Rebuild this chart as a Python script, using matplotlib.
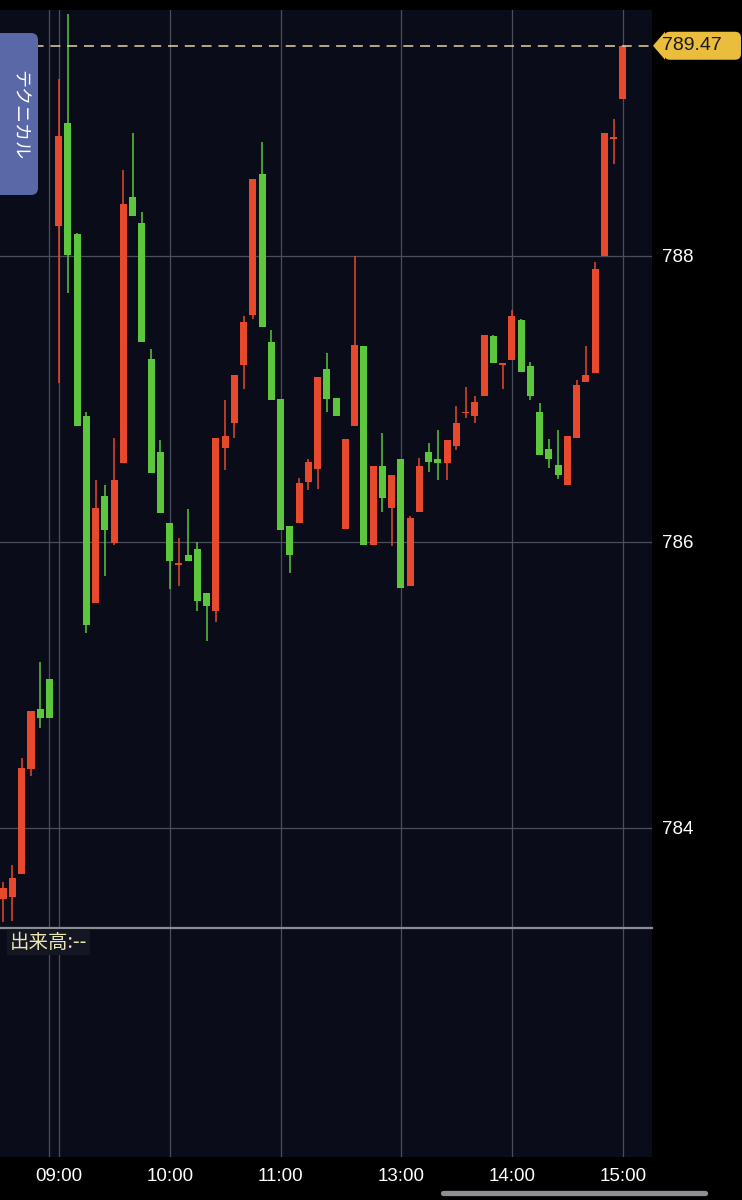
import numpy as np
import matplotlib.pyplot as plt
from matplotlib.patches import FancyBboxPatch, Polygon
from matplotlib.lines import Line2D
from matplotlib.transforms import IdentityTransform

plt.rcParams['font.family'] = ['Liberation Sans', 'Noto Sans CJK JP', 'DejaVu Sans']

# 5-minute candles, previous day tail (0-5) then the session from 09:00 (6)
opens = [783.50, 783.52, 783.68, 784.41, 784.83, 785.04,
         788.21, 788.93, 788.15, 786.88, 785.57, 786.32, 785.99, 786.55, 788.41, 788.23,
         787.28, 786.63, 786.13, 785.84, 785.91, 785.95, 785.64, 785.52, 786.66, 786.83,
         787.24, 787.59, 788.57, 787.40, 787.00, 786.11, 786.13, 786.42, 786.51, 787.21,
         787.01, 786.09, 786.81, 787.37, 785.98, 786.53, 786.24, 786.58, 785.69, 786.21,
         786.63, 786.58, 786.55, 786.67, 786.90, 786.88, 787.02, 787.44, 787.24, 787.27,
         787.55, 787.23, 786.91, 786.65, 786.54, 786.40, 786.73, 787.12, 787.18, 788.00,
         788.82, 789.10]
highs = [783.62, 783.74, 784.49, 784.82, 785.16, 785.04,
         789.24, 789.69, 788.16, 786.91, 786.43, 786.40, 786.73, 788.60, 788.86, 788.31,
         787.35, 786.71, 786.13, 786.03, 786.23, 786.00, 785.64, 786.73, 786.99, 787.17,
         787.58, 788.54, 788.80, 787.48, 787.00, 786.11, 786.45, 786.58, 787.15, 787.32,
         787.01, 786.72, 788.00, 787.37, 786.53, 786.76, 786.47, 786.58, 786.18, 786.59,
         786.69, 786.78, 786.71, 786.95, 787.08, 787.02, 787.45, 787.45, 787.25, 787.62,
         787.56, 787.26, 786.97, 786.72, 786.78, 786.74, 787.13, 787.37, 787.96, 788.86,
         788.96, 789.47]
lows = [783.34, 783.35, 783.68, 784.36, 784.70, 784.77,
        787.11, 787.74, 786.81, 785.36, 785.57, 785.76, 785.98, 786.55, 788.28, 787.40,
        786.48, 786.20, 785.67, 785.69, 785.87, 785.52, 785.31, 785.44, 786.50, 786.73,
        787.07, 787.56, 787.50, 786.99, 786.08, 785.78, 786.13, 786.36, 786.37, 786.91,
        786.88, 786.09, 786.81, 785.98, 785.98, 786.21, 785.97, 785.68, 785.69, 786.21,
        786.49, 786.43, 786.43, 786.64, 786.87, 786.83, 787.02, 787.25, 787.07, 787.27,
        787.19, 786.99, 786.61, 786.52, 786.44, 786.40, 786.73, 787.12, 787.18, 788.00,
        788.64, 789.10]
closes = [783.58, 783.65, 784.42, 784.82, 784.77, 784.77,
          788.84, 788.01, 786.81, 785.42, 786.24, 786.08, 786.43, 788.36, 788.28, 787.40,
          786.48, 786.20, 785.87, 785.84, 785.87, 785.59, 785.55, 786.73, 786.74, 787.17,
          787.54, 788.54, 787.50, 786.99, 786.08, 785.91, 786.41, 786.56, 787.15, 787.00,
          786.88, 786.72, 787.38, 785.98, 786.53, 786.31, 786.47, 785.68, 786.17, 786.53,
          786.56, 786.55, 786.71, 786.83, 786.91, 786.98, 787.45, 787.25, 787.25, 787.58,
          787.19, 787.02, 786.61, 786.58, 786.47, 786.74, 787.10, 787.17, 787.91, 788.86,
          788.82, 789.47]

tick_index = [6, 18, 30, 43, 55, 67]
tick_labels = ['09:00', '10:00', '11:00', '13:00', '14:00', '15:00']
day_break = 5
price_ticks = [784, 786, 788]

BG = '#0a0c19'
GRID = '#4a4d5a'
UP = '#e6492c'
DOWN = '#5cc63c'

W, H = 742, 1200
fig = plt.figure(figsize=(W / 100, H / 100), dpi=100, facecolor='black')
ax = fig.add_axes([0, 1 - 928 / H, 652 / W, 918 / H])
axv = fig.add_axes([0, 1 - 1157 / H, 652 / W, 229 / H])

idx = np.arange(len(opens))
o = np.array(opens)
c = np.array(closes)
up = c >= o
colors = np.where(up, UP, DOWN)

for a in (ax, axv):
    a.set_facecolor(BG)
    a.set_xlim(-0.35, 70.14)
    for s in a.spines.values():
        s.set_visible(False)
    for xv in [day_break] + tick_index:
        a.axvline(xv, color=GRID, lw=0.9, zorder=0)

ax.set_ylim(783.30, 789.72)
for yv in price_ticks:
    ax.axhline(yv, color=GRID, lw=0.9, zorder=0)

ax.vlines(idx, lows, highs, colors=colors, lw=1.1, zorder=2)
body = np.maximum(np.abs(c - o), 0.01)
ax.bar(idx, body, bottom=np.minimum(o, c), width=0.76, color=colors, zorder=3)

ax.yaxis.tick_right()
ax.set_yticks(price_ticks)
ax.set_yticklabels([str(p) for p in price_ticks])
ax.tick_params(axis='y', length=0, pad=7, labelsize=13.5, labelcolor='white')
ax.set_xticks([])

# last price line
ax.axhline(closes[-1], color='#e2d3a4', lw=1.1, dashes=(6.5, 4.5), zorder=4)

# volume panel (empty)
axv.set_ylim(0, 1)
axv.set_yticks([])
axv.spines['top'].set_visible(True)
axv.spines['top'].set_color('#8c8c94')
axv.spines['top'].set_linewidth(1.6)
axv.set_xticks(tick_index)
axv.set_xticklabels(tick_labels)
axv.tick_params(axis='x', length=0, pad=8, labelsize=13.5, labelcolor='white')
axv.text(10 / 652, 1 - 14 / 229, '出来高:--', transform=axv.transAxes,
         ha='left', va='center', fontsize=14, color='#ece6b0',
         family=['Noto Sans CJK JP', 'DejaVu Sans'],
         bbox=dict(facecolor='#141624', edgecolor='none', pad=2))

# price tag on the right
yd = ax.transData.transform((0, closes[-1]))[1]
ident = IdentityTransform()
tag_col = '#eabd3d'
fig.add_artist(Polygon([[653, yd], [665, yd + 14], [665, yd - 14]], closed=True,
                       facecolor=tag_col, edgecolor='none', transform=ident))
fig.add_artist(FancyBboxPatch((664, yd - 14), 77, 28,
                              boxstyle='round,pad=0,rounding_size=6',
                              facecolor=tag_col, edgecolor='none', transform=ident))
fig.text(662, yd, f'{closes[-1]:.2f}', transform=ident, ha='left', va='center',
         fontsize=14, color='#1a1a1a')

# side tab
fig.add_artist(FancyBboxPatch((-12, H - 195), 50, 162,
                              boxstyle='round,pad=0,rounding_size=7',
                              facecolor='#5a68a8', edgecolor='none', transform=ident))
fig.text(19, H - 115, 'テクニカル', transform=ident, ha='center', va='center',
         rotation=-90, fontsize=13, color='white',
         family=['Noto Sans CJK JP', 'DejaVu Sans'])

# scroll bar
fig.add_artist(Line2D([443, 705], [7, 7], transform=ident, color='#8e8e93',
                      lw=3.8, solid_capstyle='round'))

fig.savefig('out.png', dpi=100, facecolor='black')
